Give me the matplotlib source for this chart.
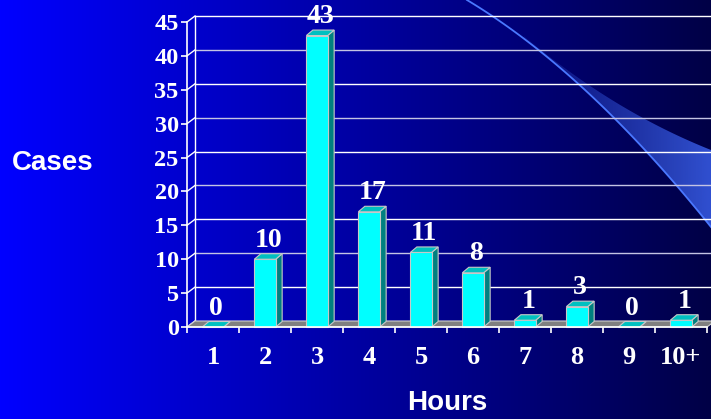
import numpy as np
import matplotlib
matplotlib.use('Agg')
import matplotlib.pyplot as plt
from matplotlib.patches import Polygon
from matplotlib.transforms import offset_copy

# data
hours = ['1', '2', '3', '4', '5', '6', '7', '8', '9', '10+']
cases = [0, 10, 43, 17, 11, 8, 1, 3, 0, 1]
y_ticks = list(range(0, 46, 5))

serif = 'Liberation Serif'
sans = 'Liberation Sans'

W, H = 711, 419
fig = plt.figure(figsize=(W / 100, H / 100), dpi=100)

# background gradient + swoosh (pixel coords)
bg = fig.add_axes([0, 0, 1, 1], zorder=-5)
grad = np.linspace(255, 70, 256) / 255.0
img = np.zeros((2, 256, 3))
img[:, :, 2] = grad
bg.imshow(img, extent=[0, W, H, 0], aspect='auto', interpolation='bilinear')


def bez(p0, p1, p2, n=60):
    t = np.linspace(0, 1, n)[:, None]
    return (1 - t) ** 2 * np.array(p0) + 2 * t * (1 - t) * np.array(p1) + t ** 2 * np.array(p2)


low = bez((467, 0), (587, 72), (711, 227))
up = bez((524, 36), (613, 111), (711, 150))
low_part = low[low[:, 1] >= 36][::-1]
band = Polygon(np.vstack([up, low_part]), closed=True, facecolor='none', edgecolor='none')
bg.add_patch(band)
sw = np.zeros((2, 256, 4))
sw[:, :, 0] = 0.2
sw[:, :, 1] = 0.33
sw[:, :, 2] = 0.85
sw[:, :, 3] = np.linspace(0.1, 0.95, 256)
im2 = bg.imshow(sw, extent=[520, W, 230, 30], aspect='auto', interpolation='bilinear')
im2.set_clip_path(band)
bg.plot(low[:, 0], low[:, 1], color='#4a78ff', lw=1.3)
bg.set_xlim(0, W)
bg.set_ylim(H, 0)
bg.axis('off')

# main axes (front plane)
x0, x1, yb, yt = 187, 707, 327, 22
ax = fig.add_axes([x0 / W, (H - yb) / H, (x1 - x0) / W, (yb - yt) / H])
ax.set_facecolor('none')
ax.set_xlim(-0.5, 9.5)
ax.set_ylim(0, 45)

px_x = (x1 - x0) / 10.0
px_y = (yb - yt) / 45.0
# floor / wall depth
ddx, ddy = 8 / px_x, 6 / px_y
# bar depth
bdx, bdy = 6.5 / px_x, 5.5 / px_y

back = offset_copy(ax.transData, fig=fig, x=8, y=6, units='dots')

# back wall gridlines
for v in y_ticks:
    c = 'white' if (v // 5) % 2 == 1 else '#c4c4e4'
    if v > 0:
        ax.plot([-0.5, 10.5], [v, v], color=c, lw=1, transform=back, clip_on=False, zorder=1)
    ax.plot([-0.5, -0.5 + ddx], [v, v + ddy], color='white', lw=1, clip_on=False, zorder=1)
ax.plot([-0.5, -0.5], [0, 45], color='white', lw=1, transform=back, clip_on=False, zorder=1)

# floor
floor = Polygon([(-0.5, 0), (9.5, 0), (9.5 + ddx, ddy), (-0.5 + ddx, ddy)], closed=True,
                facecolor='#808080', edgecolor='#d0d0d0', lw=0.8, clip_on=False, zorder=2)
ax.add_patch(floor)

# 3D bars
x = np.arange(len(hours))
bw = 0.41
ax.bar(x, cases, width=bw, color='#00ffff', edgecolor='#c8c8c8', lw=0.8, zorder=4, clip_on=False)
for xi, h in zip(x, cases):
    l, r = xi - bw / 2, xi + bw / 2
    side = Polygon([(r, 0), (r, h), (r + bdx, h + bdy), (r + bdx, bdy)], closed=True,
                   facecolor='#008080', edgecolor='#c8c8c8', lw=0.8, clip_on=False, zorder=3)
    top = Polygon([(l, h), (r, h), (r + bdx, h + bdy), (l + bdx, h + bdy)], closed=True,
                  facecolor='#00c0c0', edgecolor='#c8c8c8', lw=0.8, clip_on=False, zorder=5)
    ax.add_patch(side)
    ax.add_patch(top)
    ax.annotate(str(h), (xi + bdx / 2, h + bdy), xytext=(0, 7), textcoords='offset pixels',
                ha='center', va='baseline', color='white', fontsize=20, fontweight='bold',
                family=serif, zorder=6, annotation_clip=False)

# axes styling
for s in ['top', 'right']:
    ax.spines[s].set_visible(False)
for s in ['left', 'bottom']:
    ax.spines[s].set_color('white')
    ax.spines[s].set_linewidth(1.2)
    ax.spines[s].set_zorder(7)

ax.set_yticks(y_ticks)
ax.set_yticklabels([str(v) for v in y_ticks])
ax.tick_params(axis='y', colors='white', length=4, width=1.2, pad=2, labelsize=17.5)
ax.set_xticks(x)
ax.set_xticklabels(hours)
ax.set_xticks(np.arange(-0.5, 10, 1), minor=True)
ax.tick_params(axis='x', which='major', length=0, pad=14, colors='white', labelsize=19)
ax.tick_params(axis='x', which='minor', length=4.5, width=1.2, colors='white')
for lab in ax.get_xticklabels() + ax.get_yticklabels():
    lab.set_family(serif)
    lab.set_fontweight('bold')
    lab.set_color('white')

fig.text(53 / W, 1 - 163 / H, 'Cases', ha='center', va='center', color='white',
         fontsize=20, fontweight='bold', family=sans)
fig.text(447 / W, 1 - 403 / H, 'Hours', ha='center', va='center', color='white',
         fontsize=20, fontweight='bold', family=sans)

fig.savefig('out.png', dpi=100)
